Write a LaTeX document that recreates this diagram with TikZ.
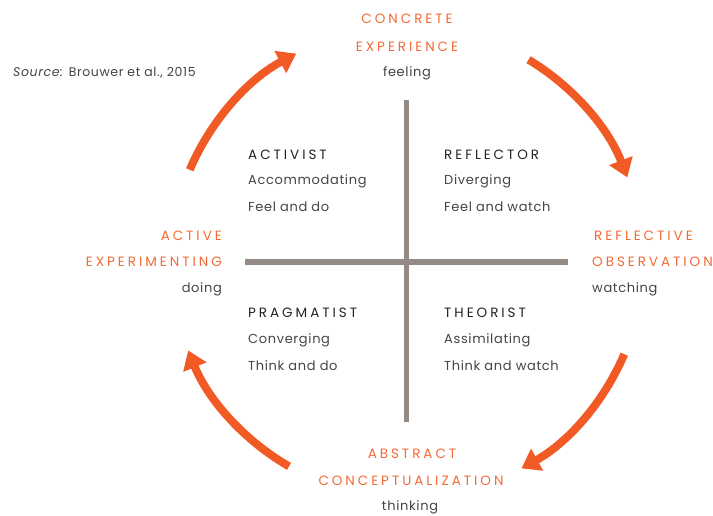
\documentclass[tikz,border=0pt]{standalone}
\usepackage{fontspec}
\setmainfont[LetterSpace=5]{Poppins}
\newfontfamily\capsfont[LetterSpace=22]{Poppins}
\usetikzlibrary{arrows.meta}
\definecolor{orng}{HTML}{F15A24}
\definecolor{orngtxt}{HTML}{F26A35}
\definecolor{crossgray}{HTML}{958B86}
\definecolor{bodygray}{HTML}{444444}
\definecolor{headblack}{HTML}{222222}
\begin{document}
\begin{tikzpicture}[x=1pt,y=-1pt,
  cyc/.style={draw=orng,line width=8pt,-{Triangle[width=24pt,length=18pt]}},
  bar/.style={draw=crossgray,line width=5pt},
  modecap/.style={font=\capsfont\fontsize{13.5}{15}\selectfont,text=orngtxt,inner sep=0pt},
  modesub/.style={font=\fontsize{13}{15}\selectfont,text=bodygray,inner sep=0pt},
  quadhead/.style={font=\capsfont\fontsize{13.5}{15}\selectfont,text=headblack,inner sep=0pt,anchor=west},
  quadtxt/.style={font=\fontsize{13}{15}\selectfont,text=bodygray,inner sep=0pt,anchor=west}
]
\useasboundingbox (0,0) rectangle (713,516);
\coordinate (c) at (407,262);
% cross
\coordinate (vt) at (406,100);
\coordinate (vb) at (406,422);
\coordinate (hl) at (245,262);
\coordinate (hr) at (568,262);
\draw[bar] (vt) -- (vb);
\draw[bar] (hl) -- (hr);
% cycle arrows
\draw[cyc] (c) ++(-157:236) arc[start angle=-157,end angle=-118,radius=236];
\draw[cyc] (c) ++(-59:236) arc[start angle=-59,end angle=-21,radius=236];
\draw[cyc] (c) ++(23:236) arc[start angle=23,end angle=61,radius=236];
\draw[cyc] (c) ++(120:236) arc[start angle=120,end angle=158,radius=236];
% source
\node[font=\fontsize{12.5}{14}\selectfont,text=bodygray,anchor=west,inner sep=0pt] (src) at (13,73) {\textit{Source:} Brouwer et al., 2015};
% modes
\node[modecap] (ce1) at (407,19) {CONCRETE};
\node[modecap] (ce2) at (407,47) {EXPERIENCE};
\node[modesub] (ce3) at (407,73) {feeling};
\node[modecap,anchor=east] (ae1) at (222,236) {ACTIVE};
\node[modecap,anchor=east] (ae2) at (222,262) {EXPERIMENTING};
\node[modesub,anchor=east] (ae3) at (222,289) {doing};
\node[modecap,anchor=west] (ro1) at (594,236) {REFLECTIVE};
\node[modecap,anchor=west] (ro2) at (592,262) {OBSERVATION};
\node[modesub,anchor=west] (ro3) at (592,289) {watching};
\node[modecap] (ac1) at (412,454) {ABSTRACT};
\node[modecap] (ac2) at (411,481) {CONCEPTUALIZATION};
\node[modesub] (ac3) at (410,507) {thinking};
% quadrants
\node[quadhead] (q1h) at (248,155) {ACTIVIST};
\node[quadtxt] (q1a) at (248,181) {Accommodating};
\node[quadtxt] (q1b) at (248,207) {Feel and do};
\node[quadhead] (q2h) at (444,155) {REFLECTOR};
\node[quadtxt] (q2a) at (444,181) {Diverging};
\node[quadtxt] (q2b) at (444,207) {Feel and watch};
\node[quadhead] (q3h) at (248,313) {PRAGMATIST};
\node[quadtxt] (q3a) at (248,340) {Converging};
\node[quadtxt] (q3b) at (248,366) {Think and do};
\node[quadhead] (q4h) at (444,313) {THEORIST};
\node[quadtxt] (q4a) at (444,340) {Assimilating};
\node[quadtxt] (q4b) at (444,366) {Think and watch};
\end{tikzpicture}
\end{document}
